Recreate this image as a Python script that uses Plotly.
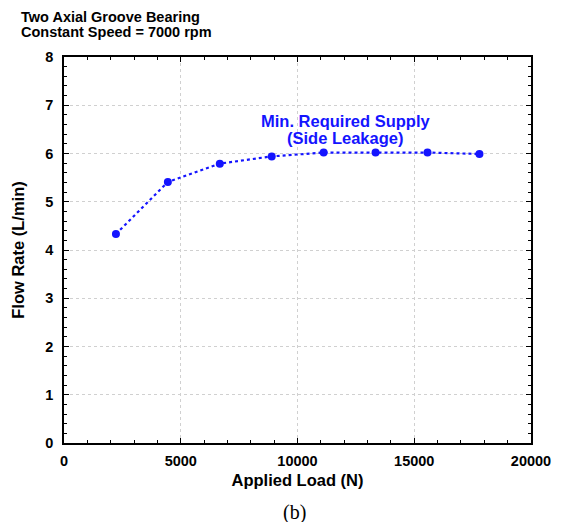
import plotly.graph_objects as go

load_n = [2224, 4448, 6672, 8896, 11120, 13344, 15568, 17792]
flow_lpm = [4.33, 5.41, 5.79, 5.94, 6.02, 6.02, 6.02, 5.99]

title_lines = ["Two Axial Groove Bearing", "Constant Speed = 7000 rpm"]
series_label = ["Min. Required Supply", "(Side Leakage)"]
x_title = "Applied Load (N)"
y_title = "Flow Rate (L/min)"
caption = "(b)"

blue = "#1414ff"
font = "Liberation Sans, Arial, sans-serif"

fig = go.Figure()
fig.add_trace(go.Scatter(
    x=load_n, y=flow_lpm, mode="lines+markers",
    line=dict(color=blue, width=2.2, dash="dot"),
    marker=dict(color=blue, size=8),
    showlegend=False,
))

axis_common = dict(
    showline=True, linecolor="black", linewidth=1.5, mirror="ticks",
    ticks="inside", ticklen=5, tickcolor="black", tickwidth=1.2,
    showgrid=True, gridcolor="#d0d0d0", griddash="dot", gridwidth=1,
    zeroline=False,
    tickfont=dict(family=font, size=14.5, color="black", weight="bold"),
)

fig.update_xaxes(range=[0, 20000], dtick=5000, tickformat="d", ticklabelstandoff=4,
                 minor=dict(dtick=1000, ticks="inside", ticklen=3, tickcolor="black", showgrid=False),
                 title=dict(text="<b>" + x_title + "</b>", font=dict(family=font, size=16.5, color="black"), standoff=6),
                 **axis_common)
fig.update_yaxes(range=[0, 8], dtick=1, ticklabelstandoff=6,
                 minor=dict(dtick=0.2, ticks="inside", ticklen=3, tickcolor="black", showgrid=False),
                 title=dict(text="<b>" + y_title + "</b>", font=dict(family=font, size=16.5, color="black"), standoff=16),
                 **axis_common)

label_y = [6.68, 6.33]
for txt, yy in zip(series_label, label_y):
    fig.add_annotation(x=12050, y=yy, xref="x", yref="y", yanchor="middle",
                       text="<b>" + txt + "</b>", showarrow=False,
                       font=dict(family=font, size=16.5, color=blue))

title_y = [1.104, 1.065]
for txt, yy in zip(title_lines, title_y):
    fig.add_annotation(x=-0.0964, y=yy, xref="paper", yref="paper", xanchor="left", yanchor="middle",
                       text="<b>" + txt + "</b>", showarrow=False,
                       font=dict(family=font, size=14.5, color="black"))

fig.add_annotation(x=0.5, y=0, xref="paper", yref="paper", xanchor="center", yanchor="top",
                   yshift=-56, xshift=-3.5,
                   text=caption, showarrow=False,
                   font=dict(family="Liberation Serif, Times New Roman, serif", size=20, color="black"))

fig.update_layout(
    width=564, height=522,
    margin=dict(l=64, r=33, t=57, b=79),
    plot_bgcolor="white", paper_bgcolor="white",
)

fig.write_html("out.html")
